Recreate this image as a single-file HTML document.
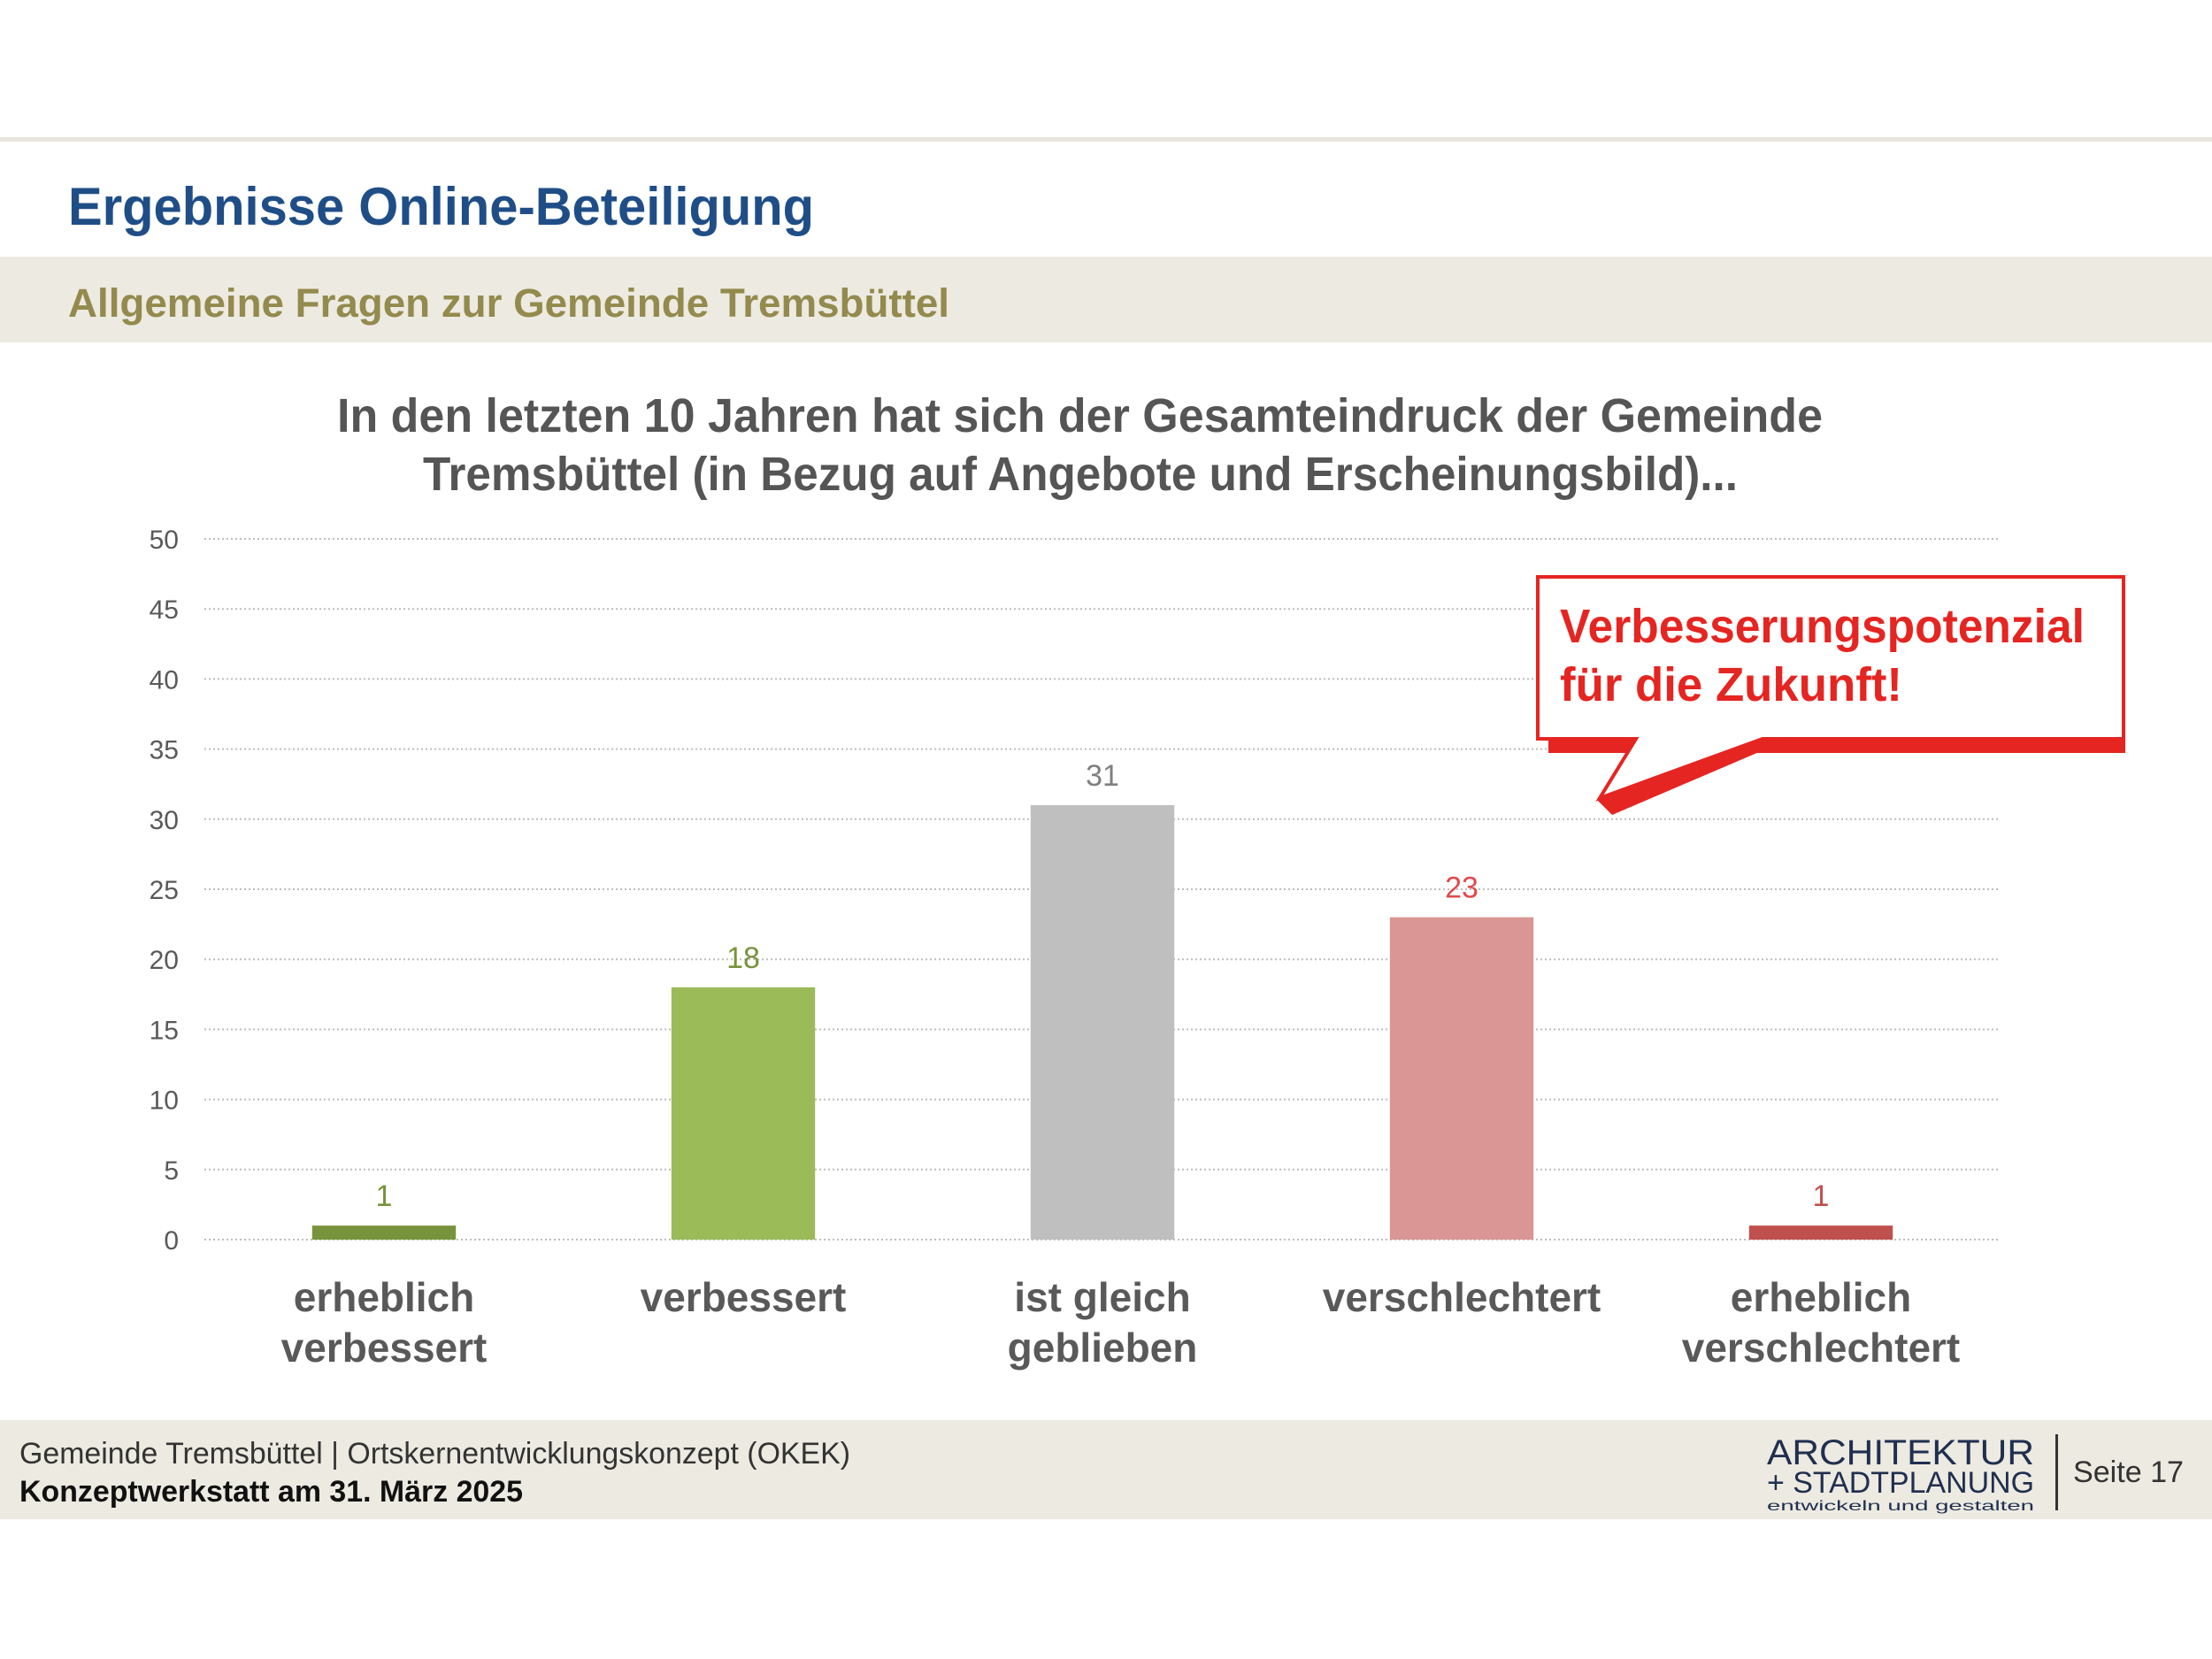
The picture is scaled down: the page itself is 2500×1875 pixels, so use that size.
<!DOCTYPE html>
<html><head><meta charset="utf-8"><style>
html,body{margin:0;padding:0;background:#fff;}
svg{display:block;font-family:"Liberation Sans",sans-serif;}
</style></head><body>
<svg id="slide" width="2500" height="1875" viewBox="0 0 2500 1875" xmlns="http://www.w3.org/2000/svg">
<rect x="0" y="0" width="2500" height="1875" fill="#fff"/>
<rect x="0" y="155" width="2500" height="5" fill="#e6e4dc"/>
<text x="77" y="254" font-size="60" font-weight="bold" fill="#1f4e87" textLength="843" lengthAdjust="spacingAndGlyphs">Ergebnisse Online-Beteiligung</text>
<rect x="0" y="290" width="2500" height="97" fill="#eceae1"/>
<text x="77" y="358" font-size="45" font-weight="bold" fill="#938a4d" textLength="996" lengthAdjust="spacingAndGlyphs">Allgemeine Fragen zur Gemeinde Tremsbüttel</text>
<text x="381" y="488" font-size="54" font-weight="bold" fill="#555" textLength="1679" lengthAdjust="spacingAndGlyphs">In den letzten 10 Jahren hat sich der Gesamteindruck der Gemeinde</text>
<text x="478" y="554" font-size="54" font-weight="bold" fill="#555" textLength="1486" lengthAdjust="spacingAndGlyphs">Tremsbüttel (in Bezug auf Angebote und Erscheinungsbild)...</text>
<g id="grid"></g>
<g id="bars"></g>
<g id="callout">
<path d="M1849 838 L1806 905 L1822 921 L2016 838 Z" fill="#e52521"/>
<rect x="1750" y="832" width="652" height="19" fill="#e52521"/>
<path d="M1738 652 L2400 652 L2400 835 L1992 835 L1808 902 L1849 835 L1738 835 Z" fill="#fff" stroke="#e52521" stroke-width="4"/>
<text x="1763" y="726" font-size="54" font-weight="bold" fill="#e52521" textLength="593" lengthAdjust="spacingAndGlyphs">Verbesserungspotenzial</text>
<text x="1763" y="792" font-size="54" font-weight="bold" fill="#e52521" textLength="387" lengthAdjust="spacingAndGlyphs">für die Zukunft!</text>
</g>
<rect x="0" y="1605" width="2500" height="112" fill="#eceae1"/>
<text x="22" y="1654" font-size="34" fill="#333" textLength="939" lengthAdjust="spacingAndGlyphs">Gemeinde Tremsbüttel | Ortskernentwicklungskonzept (OKEK)</text>
<text x="22" y="1697" font-size="34" font-weight="bold" fill="#111" textLength="569" lengthAdjust="spacingAndGlyphs">Konzeptwerkstatt am 31. März 2025</text>
<g>
<text x="1997" y="1655" font-size="40" fill="#1f2f4f" textLength="302" lengthAdjust="spacingAndGlyphs">ARCHITEKTUR</text>
<text x="1997" y="1687" font-size="34" fill="#1f2f4f" textLength="302" lengthAdjust="spacingAndGlyphs">+ STADTPLANUNG</text>
<text x="1997" y="1707" font-size="16" fill="#1f2f4f" textLength="302" lengthAdjust="spacingAndGlyphs">entwickeln und gestalten</text>
</g>
<rect x="2323" y="1621" width="3" height="86" fill="#333"/>
<text x="2343" y="1675" font-size="34" fill="#333" textLength="125" lengthAdjust="spacingAndGlyphs">Seite 17</text>
</svg>
<script>
const categories = [["erheblich","verbessert"],["verbessert"],["ist gleich","geblieben"],["verschlechtert"],["erheblich","verschlechtert"]];
const values = [1, 18, 31, 23, 1];
const ticks = [0,5,10,15,20,25,30,35,40,45,50];
const barColors = ["#77933c","#9bbb59","#bfbfbf","#d99694","#c0504d"];
const labelColors = ["#77933c","#77933c","#7f7f7f","#e04b4b","#c0504d"];
const NS = "http://www.w3.org/2000/svg";
const X0 = 231, X1 = 2261, Y0 = 1401, Y50 = 609;
const yScale = v => Y0 - (v / 50) * (Y0 - Y50);
const band = (X1 - X0) / categories.length;
const xCenter = i => X0 + band * (i + 0.5);
function mk(tag, attrs, parent){const e=document.createElementNS(NS,tag);for(const k in attrs)e.setAttribute(k,attrs[k]);parent.appendChild(e);return e;}
const grid = document.getElementById('grid');
ticks.forEach(t=>{
  const l = mk('line',{x1:X0,x2:X1,y1:yScale(t),y2:yScale(t),stroke:'#bdbdbd','stroke-width':2,'stroke-dasharray':'2 3'},grid);
  
  
  const tx = mk('text',{x:202,y:yScale(t)+11,'font-size':30,fill:'#595959','text-anchor':'end'},grid);
  tx.textContent = t;
  
  
});
const bars = document.getElementById('bars');
const bw = band * 0.4;
values.forEach((v,i)=>{
  const r = mk('rect',{x:xCenter(i)-bw/2,y:yScale(v),width:bw,height:Y0-yScale(v),fill:barColors[i]},bars);
  
  
  const vl = mk('text',{x:xCenter(i),y:yScale(v)-22,'font-size':34,fill:labelColors[i],'text-anchor':'middle'},bars);
  vl.textContent = v;
  
  
  categories[i].forEach((s,j)=>{
    const c = mk('text',{x:xCenter(i),y:1482+j*57,'font-size':46,'font-weight':'bold',fill:'#595959','text-anchor':'middle'},bars);
    c.textContent = s;
    
    
  });
});
</script>
</body></html>
